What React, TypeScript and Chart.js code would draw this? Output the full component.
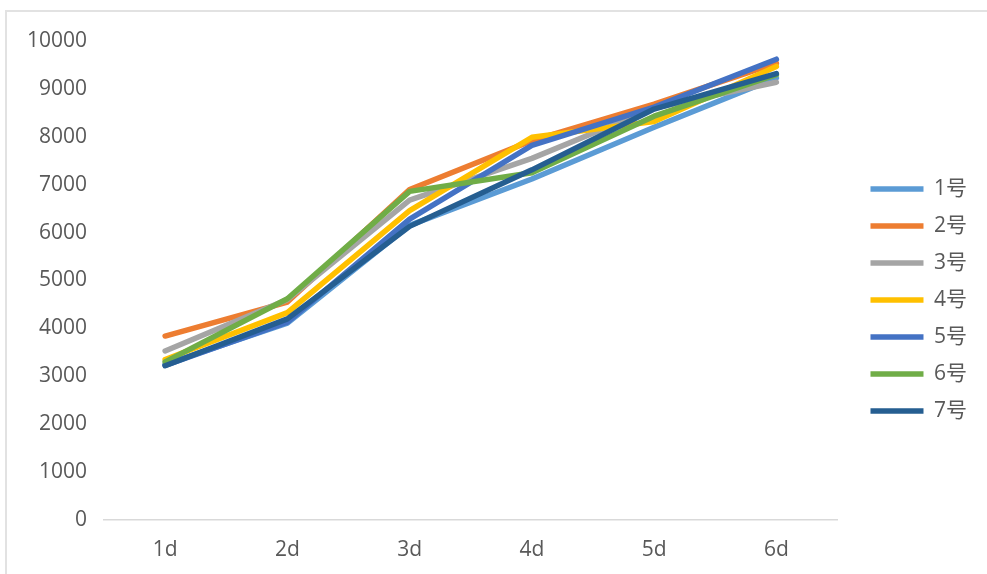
import React, { useEffect, useRef } from "react";
import { Chart, registerables } from "chart.js";

Chart.register(...registerables);

const categories = ["1d", "2d", "3d", "4d", "5d", "6d"];
const seriesNames = ["1号", "2号", "3号", "4号", "5号", "6号", "7号"];
const s1 = [3250, 4110, 6150, 7120, 8200, 9230];
const s2 = [3840, 4550, 6900, 7920, 8680, 9540];
const s3 = [3530, 4600, 6680, 7550, 8600, 9140];
const s4 = [3350, 4330, 6460, 7990, 8320, 9470];
const s5 = [3230, 4130, 6280, 7820, 8620, 9620];
const s6 = [3300, 4620, 6860, 7250, 8430, 9300];
const s7 = [3220, 4200, 6130, 7310, 8580, 9320];
const seriesValues = [s1, s2, s3, s4, s5, s6, s7];
const colors = ["#5B9BD5", "#ED7D31", "#A5A5A5", "#FFC000", "#4472C4", "#70AD47", "#255E91"];
const yTicks = [0, 1000, 2000, 3000, 4000, 5000, 6000, 7000, 8000, 9000, 10000];

const FONT = "'Open Sans', 'Noto Sans CJK SC', sans-serif";
const TEXT = "#595959";

export default function App() {
  const ref = useRef<HTMLCanvasElement | null>(null);
  useEffect(() => {
    if (!ref.current) return;
    const chart = new Chart(ref.current, {
      type: "line",
      data: {
        labels: categories,
        datasets: seriesNames.map((name, i) => ({
          label: name,
          data: seriesValues[i],
          borderColor: colors[i],
          backgroundColor: colors[i],
          borderWidth: 5.5,
          borderCapStyle: "round",
          borderJoinStyle: "round",
          pointRadius: 0,
          pointHoverRadius: 0,
          pointStyle: "line",
          tension: 0,
          fill: false,
          order: seriesNames.length - i,
        })),
      },
      options: {
        animation: false,
        responsive: false,
        maintainAspectRatio: false,
        layout: { padding: { left: 20, right: 10, top: 41, bottom: 15 } },
        plugins: {
          tooltip: { enabled: false },
          legend: {
            position: "right",
            align: "center",
            labels: {
              usePointStyle: true,
              pointStyle: "line",
              pointStyleWidth: 53,
              padding: 16,
              color: TEXT,
              font: { family: FONT, size: 21 },
              sort: (a: any, b: any) => a.datasetIndex - b.datasetIndex,
            },
          },
        },
        scales: {
          x: {
            offset: true,
            afterFit: (s: any) => {
              s.height = 39;
            },
            grid: { display: false, drawTicks: false },
            border: { display: true, color: "#D9D9D9", width: 1.5 },
            ticks: { color: TEXT, font: { family: FONT, size: 21 }, padding: 17 },
          },
          y: {
            min: 0,
            max: 10000,
            afterBuildTicks: (s: any) => {
              s.ticks = yTicks.map((v) => ({ value: v }));
            },
            afterFit: (s: any) => {
              s.width = 84;
            },
            grid: { display: false, drawTicks: false },
            border: { display: false },
            ticks: {
              color: TEXT,
              font: { family: FONT, size: 21 },
              padding: 17,
              callback: (v: any) => String(v),
            },
          },
          y2: {
            position: "right",
            display: true,
            afterFit: (s: any) => {
              s.width = 17;
            },
            grid: { display: false, drawTicks: false },
            border: { display: false },
            ticks: { display: false },
          },
        },
      },
    });
    return () => chart.destroy();
  }, []);
  return (
    <div style={{ position: "fixed", left: 0, top: 0, width: 987, height: 574, background: "#fff", overflow: "hidden" }}>
      <div
        style={{
          position: "absolute",
          left: 5,
          top: 10,
          width: 1100,
          height: 700,
          borderTop: "2px solid #E2E2E2",
          borderLeft: "2px solid #E2E2E2",
        }}
      />
      <canvas ref={ref} width={987} height={574} style={{ position: "absolute", left: 0, top: 0 }} />
    </div>
  );
}
